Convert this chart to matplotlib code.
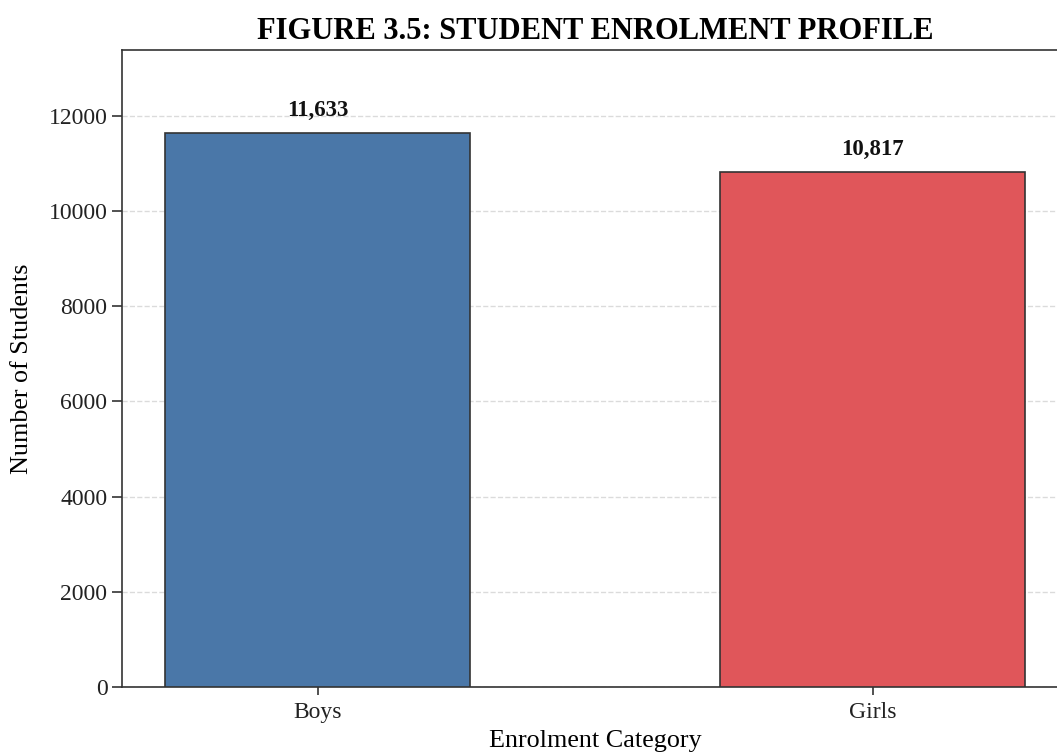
import matplotlib
matplotlib.use("Agg")
import matplotlib.pyplot as plt

categories = ["Boys", "Girls"]
enrolment = [11633, 10817]
bar_colors = ["#4A77A8", "#E0565A"]
y_ticks = [0, 2000, 4000, 6000, 8000, 10000, 12000]

plt.rcParams["font.family"] = "serif"
plt.rcParams["font.serif"] = ["Liberation Serif", "DejaVu Serif"]

fig = plt.figure(figsize=(10.57, 7.56), dpi=100)
ax = fig.add_axes([0.1154, 0.0913, 0.8955, 0.8426])

x = list(range(len(categories)))
bars = ax.bar(x, enrolment, width=0.55, color=bar_colors,
              edgecolor="#333333", linewidth=1.2, zorder=3)

for rect, val in zip(bars, enrolment):
    ax.text(rect.get_x() + rect.get_width() / 2, val + 250, f"{val:,}",
            ha="center", va="bottom", fontsize=16.5, fontweight="bold",
            color="#111111", zorder=4)

ax.set_xticks(x)
ax.set_xticklabels(categories)
ax.set_yticks(y_ticks)
ax.set_ylim(0, max(enrolment) * 1.15)

ax.set_title("FIGURE 3.5: STUDENT ENROLMENT PROFILE", fontsize=22,
             fontweight="bold", pad=8)
ax.set_xlabel("Enrolment Category", fontsize=18.8, labelpad=5)
ax.set_ylabel("Number of Students", fontsize=18.8, labelpad=11)

ax.tick_params(axis="both", labelsize=17, colors="#333333", labelcolor="#222222")
ax.tick_params(axis="y", length=7, width=1.2)
ax.tick_params(axis="x", length=6, width=1.2, pad=5)

ax.grid(axis="y", linestyle="--", color="#cccccc", alpha=0.7, linewidth=1.0, zorder=0)
ax.set_axisbelow(True)

for side in ["left", "top", "bottom", "right"]:
    ax.spines[side].set_color("#333333")
    ax.spines[side].set_linewidth(1.2)

fig.savefig("out.png", dpi=100)
